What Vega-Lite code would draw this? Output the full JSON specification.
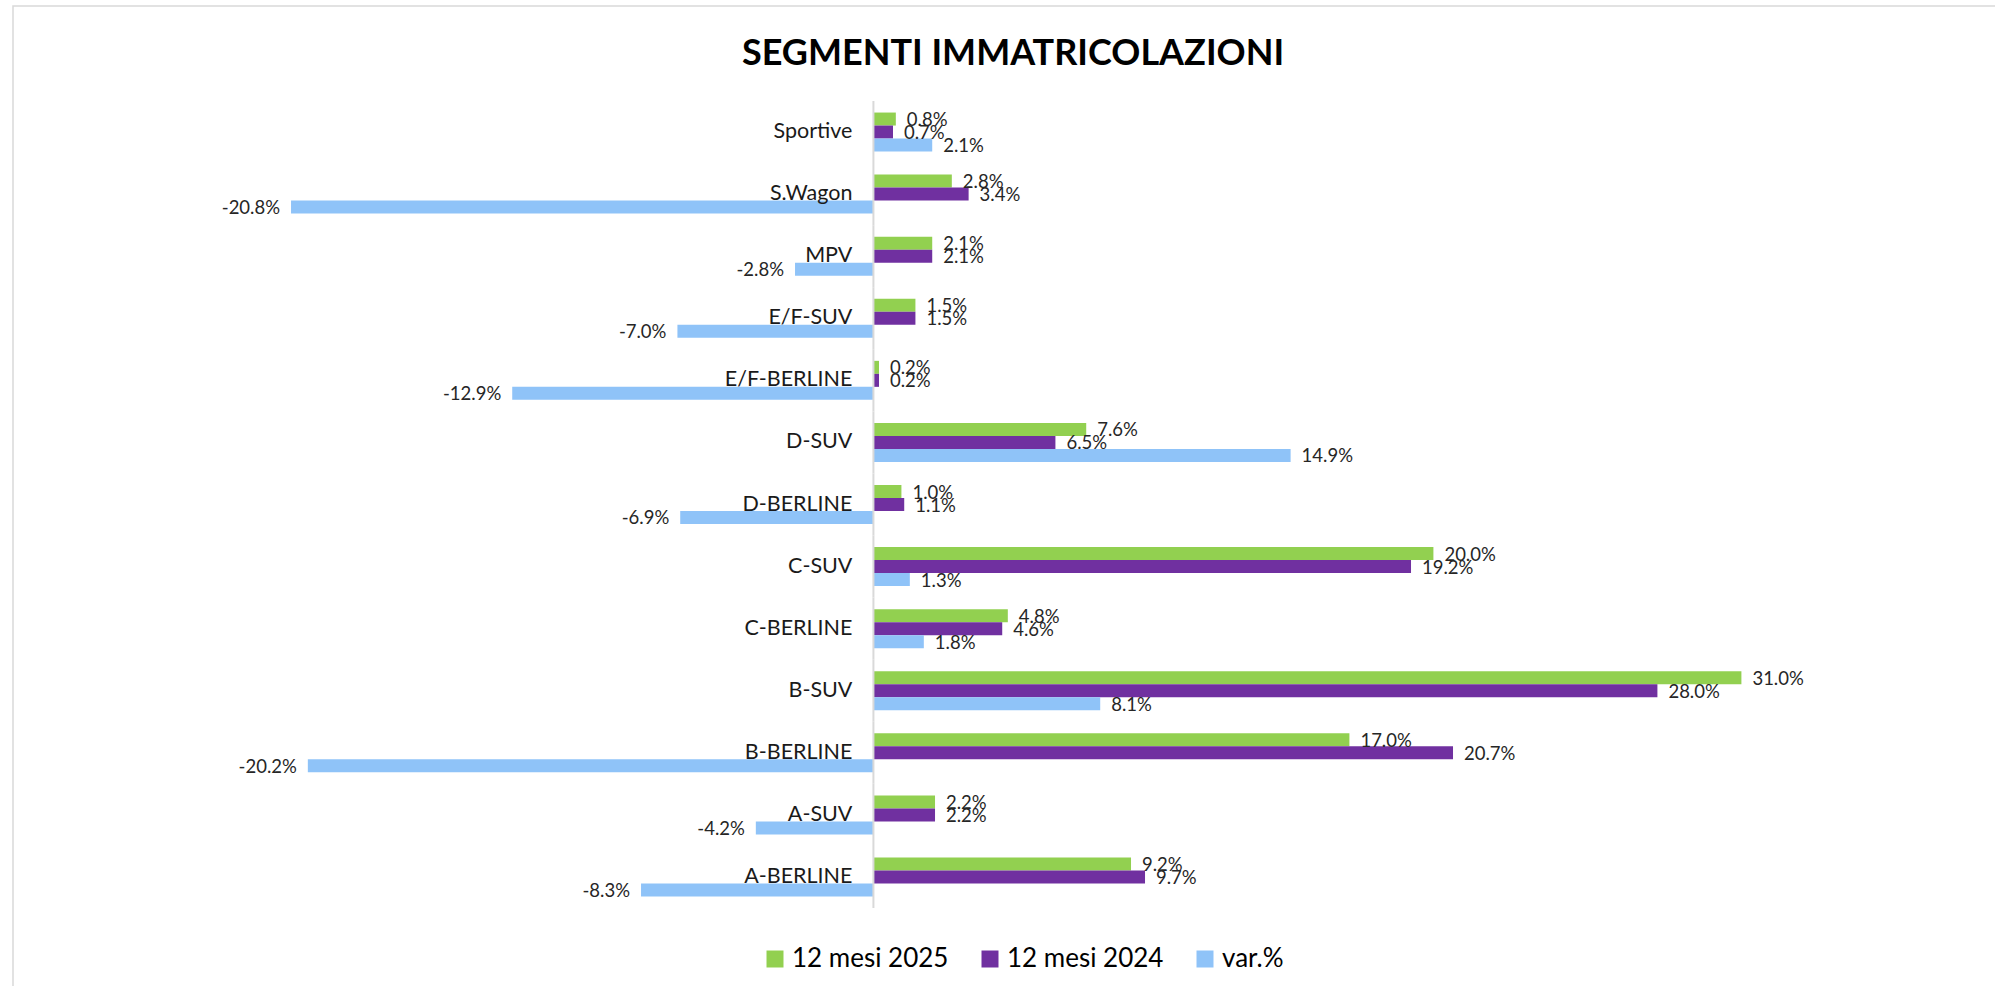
{
  "$schema": "https://vega.github.io/schema/vega-lite/v6.json",
  "autosize": "none",
  "width": 2000,
  "height": 997,
  "padding": {"left": 13, "top": 6, "right": 0, "bottom": 0},
  "background": "white",
  "config": {
    "view": {"stroke": "#D9D9D9", "strokeWidth": 1.5},
    "font": "Lato",
    "locale": {"number": {"decimal": ".", "thousands": ",", "grouping": [3], "currency": ["", ""], "minus": "-"}}
  },
  "title": {
    "text": "SEGMENTI IMMATRICOLAZIONI",
    "orient": "top",
    "anchor": "middle",
    "frame": "group",
    "baseline": "alphabetic",
    "offset": -95,
    "font": "Lato",
    "fontSize": 36,
    "fontWeight": "bold",
    "color": "#000000"
  },
  "data": {
    "values": [
      {"cat": "Sportive", "series": "12 mesi 2025", "value": 0.008},
      {"cat": "Sportive", "series": "12 mesi 2024", "value": 0.007},
      {"cat": "Sportive", "series": "var.%", "value": 0.021},
      {"cat": "S.Wagon", "series": "12 mesi 2025", "value": 0.028},
      {"cat": "S.Wagon", "series": "12 mesi 2024", "value": 0.034},
      {"cat": "S.Wagon", "series": "var.%", "value": -0.208},
      {"cat": "MPV", "series": "12 mesi 2025", "value": 0.021},
      {"cat": "MPV", "series": "12 mesi 2024", "value": 0.021},
      {"cat": "MPV", "series": "var.%", "value": -0.028},
      {"cat": "E/F-SUV", "series": "12 mesi 2025", "value": 0.015},
      {"cat": "E/F-SUV", "series": "12 mesi 2024", "value": 0.015},
      {"cat": "E/F-SUV", "series": "var.%", "value": -0.070},
      {"cat": "E/F-BERLINE", "series": "12 mesi 2025", "value": 0.002},
      {"cat": "E/F-BERLINE", "series": "12 mesi 2024", "value": 0.002},
      {"cat": "E/F-BERLINE", "series": "var.%", "value": -0.129},
      {"cat": "D-SUV", "series": "12 mesi 2025", "value": 0.076},
      {"cat": "D-SUV", "series": "12 mesi 2024", "value": 0.065},
      {"cat": "D-SUV", "series": "var.%", "value": 0.149},
      {"cat": "D-BERLINE", "series": "12 mesi 2025", "value": 0.010},
      {"cat": "D-BERLINE", "series": "12 mesi 2024", "value": 0.011},
      {"cat": "D-BERLINE", "series": "var.%", "value": -0.069},
      {"cat": "C-SUV", "series": "12 mesi 2025", "value": 0.200},
      {"cat": "C-SUV", "series": "12 mesi 2024", "value": 0.192},
      {"cat": "C-SUV", "series": "var.%", "value": 0.013},
      {"cat": "C-BERLINE", "series": "12 mesi 2025", "value": 0.048},
      {"cat": "C-BERLINE", "series": "12 mesi 2024", "value": 0.046},
      {"cat": "C-BERLINE", "series": "var.%", "value": 0.018},
      {"cat": "B-SUV", "series": "12 mesi 2025", "value": 0.310},
      {"cat": "B-SUV", "series": "12 mesi 2024", "value": 0.280},
      {"cat": "B-SUV", "series": "var.%", "value": 0.081},
      {"cat": "B-BERLINE", "series": "12 mesi 2025", "value": 0.170},
      {"cat": "B-BERLINE", "series": "12 mesi 2024", "value": 0.207},
      {"cat": "B-BERLINE", "series": "var.%", "value": -0.202},
      {"cat": "A-SUV", "series": "12 mesi 2025", "value": 0.022},
      {"cat": "A-SUV", "series": "12 mesi 2024", "value": 0.022},
      {"cat": "A-SUV", "series": "var.%", "value": -0.042},
      {"cat": "A-BERLINE", "series": "12 mesi 2025", "value": 0.092},
      {"cat": "A-BERLINE", "series": "12 mesi 2024", "value": 0.097},
      {"cat": "A-BERLINE", "series": "var.%", "value": -0.083}
    ]
  },
  "encoding": {
    "y": {
      "field": "cat",
      "type": "nominal",
      "sort": ["Sportive", "S.Wagon", "MPV", "E/F-SUV", "E/F-BERLINE", "D-SUV", "D-BERLINE", "C-SUV", "C-BERLINE", "B-SUV", "B-BERLINE", "A-SUV", "A-BERLINE"],
      "scale": {"paddingInner": 0, "paddingOuter": 0, "range": [95, 902]},
      "axis": null
    }
  },
  "layer": [
    {
      "mark": {"type": "bar", "cornerRadius": 0},
      "encoding": {
        "x": {
          "field": "value",
          "type": "quantitative",
          "scale": {"domain": [-0.3073, 0.4070], "nice": false, "zero": false},
          "axis": null
        },
        "yOffset": {
          "field": "series",
          "type": "nominal",
          "sort": ["12 mesi 2025", "12 mesi 2024", "var.%"],
          "scale": {"paddingInner": 0, "paddingOuter": 0.888}
        },
        "color": {
          "field": "series",
          "type": "nominal",
          "scale": {"domain": ["12 mesi 2025", "12 mesi 2024", "var.%"], "range": ["#92D050", "#7030A0", "#8FC3F8"]},
          "legend": {
            "title": null,
            "orient": "none",
            "direction": "horizontal",
            "legendX": 749,
            "legendY": 940,
            "padding": 0,
            "symbolType": "square",
            "symbolSize": 289,
            "symbolStrokeWidth": 0,
            "labelFont": "Lato",
            "labelFontSize": 26,
            "labelColor": "#000000",
            "labelOffset": 4,
            "columnPadding": 28,
            "labelLimit": 400
          }
        }
      }
    },
    {
      "transform": [{"filter": "datum.value >= 0"}],
      "mark": {"type": "text", "align": "left", "baseline": "middle", "dx": 11, "dy": 1, "fontSize": 18.5, "color": "#262626"},
      "encoding": {
        "x": {"field": "value", "type": "quantitative"},
        "yOffset": {"field": "series", "type": "nominal", "sort": ["12 mesi 2025", "12 mesi 2024", "var.%"]},
        "text": {"field": "value", "type": "quantitative", "format": ".1%"}
      }
    },
    {
      "transform": [{"filter": "datum.value < 0"}],
      "mark": {"type": "text", "align": "right", "baseline": "middle", "dx": -11, "dy": 1, "fontSize": 18.5, "color": "#262626"},
      "encoding": {
        "x": {"field": "value", "type": "quantitative"},
        "yOffset": {"field": "series", "type": "nominal", "sort": ["12 mesi 2025", "12 mesi 2024", "var.%"]},
        "text": {"field": "value", "type": "quantitative", "format": ".1%"}
      }
    },
    {
      "transform": [{"filter": "datum.series === '12 mesi 2025'"}],
      "mark": {"type": "rect", "stroke": "#D9D9D9", "strokeWidth": 2, "fill": null},
      "encoding": {
        "x": {"datum": 0},
        "x2": {"datum": 0}
      }
    },
    {
      "transform": [{"filter": "datum.series === '12 mesi 2025'"}],
      "mark": {"type": "text", "align": "right", "baseline": "middle", "dx": -21, "fontSize": 21.5, "color": "#1A1A1A"},
      "encoding": {
        "x": {"datum": 0},
        "text": {"field": "cat"}
      }
    }
  ]
}
